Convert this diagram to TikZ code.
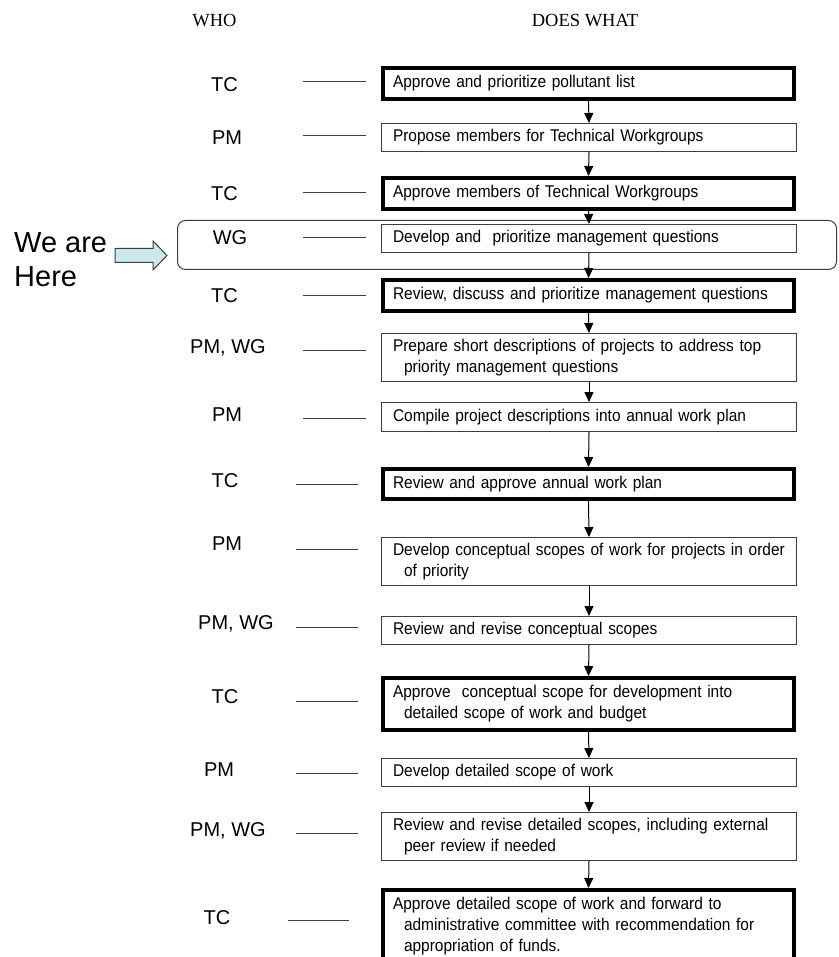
\documentclass[tikz,border=0pt]{standalone}
\usepackage{fontspec}
\setmainfont{Liberation Serif}
\newfontfamily\boxfont[FakeStretch=0.91]{Liberation Sans}
\newfontfamily\labfont{Liberation Sans}
\usetikzlibrary{arrows.meta}
\definecolor{linegray}{HTML}{3C3C3C}
\definecolor{arrowfill}{HTML}{CCE8EC}
\tikzset{
  thinbox/.style={draw=linegray, line width=1pt, text width=392pt, inner xsep=11.5pt, inner ysep=0pt,
    align=left, font=\boxfont\fontsize{17}{21}\selectfont},
  thickbox/.style={draw=black, line width=4pt, text width=391pt, inner xsep=10pt, inner ysep=0pt,
    align=left, font=\boxfont\fontsize{17}{21}\selectfont},
  who/.style={font=\labfont\fontsize{20}{24}\selectfont, inner sep=0pt},
  head/.style={font=\fontsize{18.5}{22}\selectfont, inner sep=0pt},
  dashline/.style={draw=linegray, line width=1pt},
  flow/.style={draw=black, line width=1pt, -{Triangle[width=9pt,length=10pt]}},
  herefont/.style={font=\labfont\fontsize{29}{34}\selectfont, inner sep=0pt}
}
\begin{document}
\begin{tikzpicture}[x=1pt,y=-1pt]
\useasboundingbox (0,0) rectangle (838,957);

% headers
\node[head] (hwho) at (214.5,21) {WHO};
\node[head] (hwhat) at (585,21) {DOES WHAT};

% highlight frame
\node[draw=linegray, line width=1pt, rounded corners=8pt, minimum width=659pt, minimum height=49pt, inner sep=0pt] (frame) at (507,245) {};

% We are Here
\node[herefont, anchor=base west] (we1) at (14,253) {We are};
\node[herefont, anchor=base west] (we2) at (14,287) {Here};
\draw[draw=linegray, line width=1pt, fill=arrowfill]
  (115,248.5) -- (153,248.5) -- (153,241) -- (167,255.5) -- (153,270) -- (153,262.5) -- (115,262.5) -- cycle;

% boxes
\node[thickbox, minimum height=31pt] (b1) at (588.5,83.5) {\mbox{Approve and prioritize pollutant list}};
\node[thinbox, minimum height=28pt] (b2) at (589,137.5) {\mbox{Propose members for Technical Workgroups}};
\node[thickbox, minimum height=31pt] (b3) at (588.5,193.5) {\mbox{Approve members of Technical Workgroups}};
\node[thinbox, minimum height=28pt] (b4) at (589,238.5) {\mbox{Develop and\ \ prioritize management questions}};
\node[thickbox, minimum height=31pt] (b5) at (588.5,295.5) {\mbox{Review, discuss and prioritize management questions}};
\node[thinbox, minimum height=48pt] (b6) at (589,357.5) {\mbox{Prepare short descriptions of projects to address top}\\\mbox{\hspace*{11pt}priority management questions}};
\node[thinbox, minimum height=29pt] (b7) at (589,417) {\mbox{Compile project descriptions into annual work plan}};
\node[thickbox, minimum height=30pt] (b8) at (588.5,484) {\mbox{Review and approve annual work plan}};
\node[thinbox, minimum height=48pt] (b9) at (589,561.5) {\mbox{Develop conceptual scopes of work for projects in order}\\\mbox{\hspace*{11pt}of priority}};
\node[thinbox, minimum height=28pt] (b10) at (589,630.5) {\mbox{Review and revise conceptual scopes}};
\node[thickbox, minimum height=52pt] (b11) at (588.5,704) {\mbox{Approve\ \ conceptual scope for development into}\\\mbox{\hspace*{11pt}detailed scope of work and budget}};
\node[thinbox, minimum height=28pt] (b12) at (589,772.5) {\mbox{Develop detailed scope of work}};
\node[thinbox, minimum height=48pt] (b13) at (589,836.5) {\mbox{Review and revise detailed scopes, including external}\\\mbox{\hspace*{11pt}peer review if needed}};
\node[thickbox, minimum height=72pt] (b14) at (588.5,926) {\mbox{Approve detailed scope of work and forward to}\\\mbox{\hspace*{11pt}administrative committee with recommendation for}\\\mbox{\hspace*{11pt}appropriation of funds.}};

% flow arrows
\foreach \a/\b in {b1/b2,b2/b3,b3/b4,b4/b5,b5/b6,b6/b7,b7/b8,b8/b9,b9/b10,b10/b11,b11/b12,b12/b13,b13/b14}
  \draw[flow] (\a.south) -- (\b.north);

% who labels
\node[who] (w1) at (224.5,85) {TC};
\node[who] (w2) at (227,138) {PM};
\node[who] (w3) at (224.5,194) {TC};
\node[who] (w4) at (230,238) {WG};
\node[who] (w5) at (224.5,296) {TC};
\node[who] (w6) at (228,348) {PM, WG};
\node[who] (w7) at (227,415) {PM};
\node[who] (w8) at (225,481) {TC};
\node[who] (w9) at (227,544) {PM};
\node[who] (w10) at (236,624) {PM, WG};
\node[who] (w11) at (225,697) {TC};
\node[who] (w12) at (219,770) {PM};
\node[who] (w13) at (228,831) {PM, WG};
\node[who] (w14) at (217,918) {TC};

% dash lines
\foreach \n/\xa/\xb/\y in {1/303/366/82, 2/303/366/136, 3/303/366/193, 4/303/366/238, 5/303/366/295,
  6/303/366/350, 7/303/366/418, 8/296/358/484, 9/296/358/549, 10/296/358/627, 11/296/358/701,
  12/296/358/773, 13/296/358/833, 14/288/349/920}
{
  \coordinate (d\n a) at (\xa,\y);
  \coordinate (d\n b) at (\xb,\y);
  \draw[dashline] (d\n a) -- (d\n b);
}
\end{tikzpicture}
\end{document}
